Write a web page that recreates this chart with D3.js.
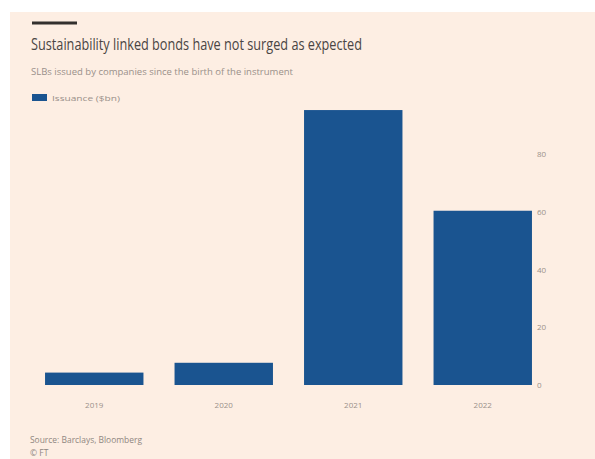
<!DOCTYPE html>
<html>
<head>
<meta charset="utf-8">
<script src="https://cdn.jsdelivr.net/npm/d3@7"></script>
<style>
  html, body { margin: 0; padding: 0; background: #ffffff; }
  svg { display: block; }
  text { font-family: "Open Sans", "Noto Sans", sans-serif; }
</style>
</head>
<body>
<svg id="chart" width="595" height="459"></svg>
<script>
// Annual issuance of sustainability linked bonds, $bn
const years = ["2019", "2020", "2021", "2022"];
const issuance = [4.3, 7.7, 95.3, 60.4];
const yTicks = [0, 20, 40, 60, 80];

const titleText = "Sustainability linked bonds have not surged as expected";
const subtitleText = "SLBs issued by companies since the birth of the instrument";
const legendText = "Issuance ($bn)";
const sourceText = "Source: Barclays, Bloomberg";
const creditText = "© FT";

const W = 595, H = 459;
const svg = d3.select("#chart");

// page panel
svg.append("rect")
  .attr("x", 10).attr("y", 12)
  .attr("width", W - 10).attr("height", H - 12)
  .attr("fill", "#fdeee3");

// accent rule above the title
svg.append("rect")
  .attr("x", 32).attr("y", 21.5)
  .attr("width", 45).attr("height", 3)
  .attr("fill", "#33302e");

svg.append("text")
  .attr("x", 31).attr("y", 50)
  .attr("font-size", 15.5)
  .attr("fill", "#4a4543")
  .attr("textLength", 331)
  .attr("lengthAdjust", "spacingAndGlyphs")
  .text(titleText);

svg.append("text")
  .attr("x", 31).attr("y", 75)
  .attr("font-size", 9)
  .attr("fill", "#9a908a")
  .attr("textLength", 262)
  .attr("lengthAdjust", "spacingAndGlyphs")
  .text(subtitleText);

const barColor = "#1a5490";

// legend
svg.append("rect")
  .attr("x", 32).attr("y", 94)
  .attr("width", 15).attr("height", 7)
  .attr("fill", barColor);
svg.append("text")
  .attr("x", 52).attr("y", 100.5)
  .attr("font-size", 8)
  .attr("fill", "#9a908a")
  .attr("textLength", 68)
  .attr("lengthAdjust", "spacingAndGlyphs")
  .text(legendText);

const x = d3.scaleBand()
  .domain(years)
  .range([29.5, 547.5])
  .paddingInner(0.24)
  .paddingOuter(0.12);

const y = d3.scaleLinear()
  .domain([0, 100])
  .range([385, 96.5]);

// bars
svg.append("g")
  .selectAll("rect")
  .data(years.map((yr, i) => ({ yr, v: issuance[i] })))
  .join("rect")
  .attr("x", d => x(d.yr))
  .attr("y", d => y(d.v))
  .attr("width", x.bandwidth())
  .attr("height", d => y(0) - y(d.v))
  .attr("fill", barColor);

// right-hand value axis
const yAxis = d3.axisRight(y)
  .tickValues(yTicks)
  .tickSize(0)
  .tickPadding(0);
const gy = svg.append("g")
  .attr("transform", "translate(537,0)")
  .call(yAxis);
gy.select(".domain").remove();
gy.selectAll("text")
  .attr("font-size", 8)
  .attr("fill", "#9a908a")
  .attr("font-family", "Open Sans, Noto Sans, sans-serif");

// category axis
const xAxis = d3.axisBottom(x).tickSize(0).tickPadding(0);
const gx = svg.append("g")
  .attr("transform", "translate(0,402)")
  .call(xAxis);
gx.select(".domain").remove();
gx.selectAll("text")
  .attr("font-size", 8)
  .attr("fill", "#9a908a")
  .attr("font-family", "Open Sans, Noto Sans, sans-serif");

// footnotes
svg.append("text")
  .attr("x", 30).attr("y", 443)
  .attr("font-size", 8.5)
  .attr("fill", "#8f8681")
  .attr("textLength", 112)
  .attr("lengthAdjust", "spacingAndGlyphs")
  .text(sourceText);
svg.append("text")
  .attr("x", 30).attr("y", 456)
  .attr("font-size", 8.5)
  .attr("fill", "#8f8681")
  .text(creditText);
</script>
</body>
</html>
